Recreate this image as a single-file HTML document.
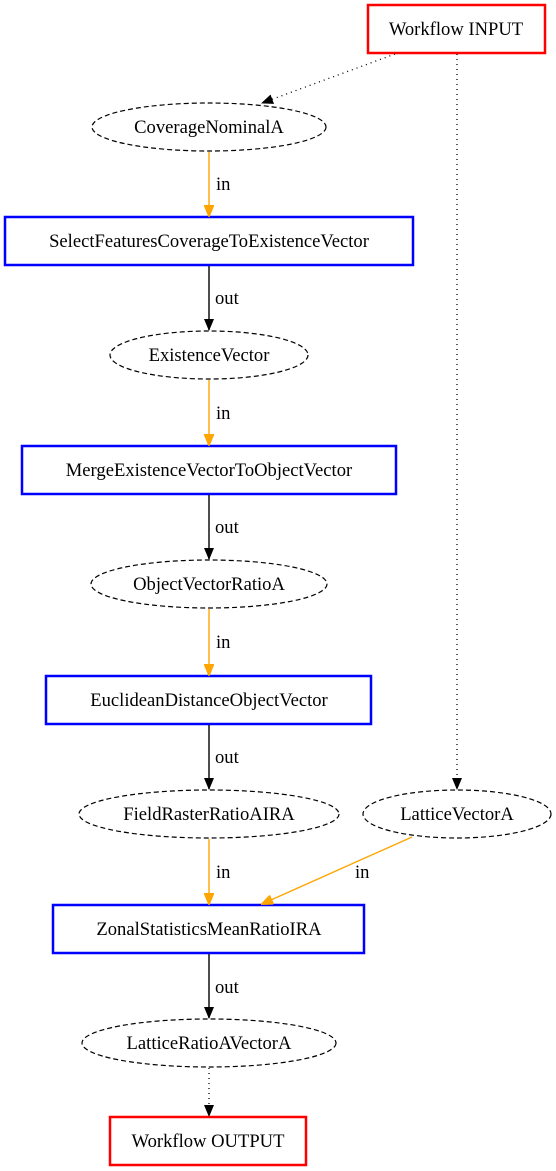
<!DOCTYPE html>
<html><head><style>body{margin:0;background:#fff}svg{display:block}text{font-family:"Liberation Serif",serif;font-size:18.6px}</style></head><body>
<svg width="556" height="1171" viewBox="0 0 556 1171" xmlns="http://www.w3.org/2000/svg">
<defs>
<marker id="ab" markerWidth="12" markerHeight="10" refX="11" refY="5" orient="auto" markerUnits="userSpaceOnUse"><path d="M0,0 L12,5 L0,10 z" fill="#000"/></marker>
<marker id="ao" markerWidth="12" markerHeight="10" refX="11" refY="5" orient="auto" markerUnits="userSpaceOnUse"><path d="M0,0 L12,5 L0,10 z" fill="orange" stroke="orange"/></marker>
</defs>
<g fill="none">
<rect x="368" y="5" width="177" height="48" stroke="red" stroke-width="2.5"/>
<rect x="5" y="217" width="408" height="48" stroke="blue" stroke-width="2.5"/>
<rect x="22" y="446" width="374" height="48" stroke="blue" stroke-width="2.5"/>
<rect x="46" y="676" width="325" height="48" stroke="blue" stroke-width="2.5"/>
<rect x="53" y="905" width="311" height="48" stroke="blue" stroke-width="2.5"/>
<rect x="110" y="1117" width="196" height="48" stroke="red" stroke-width="2.5"/>
<g stroke="#000" stroke-dasharray="5,3" stroke-width="1.2">
<ellipse cx="209" cy="127" rx="117" ry="24"/>
<ellipse cx="209" cy="355" rx="99" ry="24"/>
<ellipse cx="209" cy="584" rx="118" ry="24"/>
<ellipse cx="209" cy="814" rx="130" ry="24"/>
<ellipse cx="457" cy="814" rx="94" ry="24"/>
<ellipse cx="209" cy="1043" rx="127" ry="24"/>
</g>
<g stroke="#000" stroke-dasharray="1,4" stroke-width="1.3">
<line x1="395" y1="54" x2="262" y2="103" marker-end="url(#ab)"/>
<line x1="457" y1="54" x2="457" y2="789" marker-end="url(#ab)"/>
<line x1="209" y1="1068" x2="209" y2="1116" marker-end="url(#ab)"/>
</g>
<g stroke="orange" stroke-width="1.4">
<line x1="209" y1="152" x2="209" y2="216" marker-end="url(#ao)"/>
<line x1="209" y1="380" x2="209" y2="445" marker-end="url(#ao)"/>
<line x1="209" y1="609" x2="209" y2="675" marker-end="url(#ao)"/>
<line x1="209" y1="839" x2="209" y2="904" marker-end="url(#ao)"/>
<line x1="412" y1="837" x2="262" y2="904" marker-end="url(#ao)"/>
</g>
<g stroke="#000" stroke-width="1.4">
<line x1="209" y1="266" x2="209" y2="330" marker-end="url(#ab)"/>
<line x1="209" y1="495" x2="209" y2="559" marker-end="url(#ab)"/>
<line x1="209" y1="725" x2="209" y2="789" marker-end="url(#ab)"/>
<line x1="209" y1="954" x2="209" y2="1018" marker-end="url(#ab)"/>
</g>
</g>
<g text-anchor="middle" fill="#000">
<text x="456" y="35">Workflow INPUT</text>
<text x="209" y="133">CoverageNominalA</text>
<text x="209" y="247">SelectFeaturesCoverageToExistenceVector</text>
<text x="209" y="361">ExistenceVector</text>
<text x="209" y="476">MergeExistenceVectorToObjectVector</text>
<text x="209" y="590">ObjectVectorRatioA</text>
<text x="209" y="706">EuclideanDistanceObjectVector</text>
<text x="209" y="820">FieldRasterRatioAIRA</text>
<text x="457" y="820">LatticeVectorA</text>
<text x="209" y="935">ZonalStatisticsMeanRatioIRA</text>
<text x="209" y="1049">LatticeRatioAVectorA</text>
<text x="208" y="1147">Workflow OUTPUT</text>
</g>
<g fill="#000">
<text x="216" y="190">in</text>
<text x="215" y="304">out</text>
<text x="216" y="419">in</text>
<text x="215" y="533">out</text>
<text x="216" y="648">in</text>
<text x="215" y="763">out</text>
<text x="216" y="878">in</text>
<text x="355" y="878">in</text>
<text x="215" y="993">out</text>
</g>
</svg>
</body></html>
